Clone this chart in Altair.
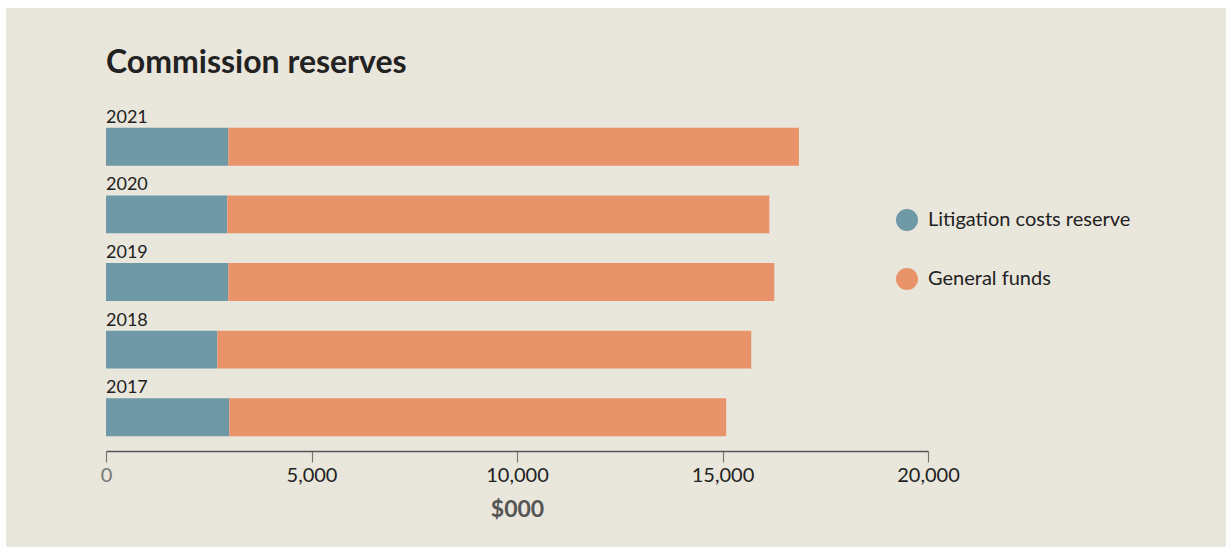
import altair as alt
import pandas as pd

years = ["2021", "2020", "2019", "2018", "2017"]
litigation = [2975, 2950, 2975, 2710, 3000]
general = [13885, 13190, 13285, 12990, 12090]
series = ["Litigation costs reserve", "General funds"]
colors = ["#7099a8", "#e89369"]
x_ticks = [0, 5000, 10000, 15000, 20000]

rows = []
for y, l, g in zip(years, litigation, general):
    rows.append({"year": y, "series": series[0], "value": l, "rank": 0})
    rows.append({"year": y, "series": series[1], "value": g, "rank": 1})
df = pd.DataFrame(rows)
labels_df = pd.DataFrame({"year": years})

FONT = "Lato"
BG = "#e9e6dc"

yscale = alt.Scale(domain=years, paddingInner=0.44, paddingOuter=0.22)

backdrop = alt.Chart(labels_df).mark_rect(color=BG).encode(
    x=alt.value(-100), x2=alt.value(1120), y=alt.value(-105), y2=alt.value(440)
)

bars = alt.Chart(df).mark_bar().encode(
    x=alt.X("value:Q", stack="zero",
            scale=alt.Scale(domain=[0, 20000], nice=False),
            axis=alt.Axis(values=x_ticks, format=",.0f", title="$000", zindex=1,
                          grid=False, domainColor="#555", domainWidth=1.5,
                          tickColor="#777", tickSize=11, tickWidth=1.2,
                          labelFont=FONT, labelFontSize=20,
                          labelColor=alt.condition(alt.datum.value == 0, alt.value("#777777"), alt.value("#222222")),
                          labelPadding=3, labelFlush=False,
                          titleFont=FONT, titleFontSize=23, titleFontWeight="bold",
                          titleColor="#555555", titlePadding=13)),
    y=alt.Y("year:N", scale=yscale, axis=None),
    color=alt.Color("series:N", scale=alt.Scale(domain=series, range=colors),
                    legend=alt.Legend(title=None, orient="none", legendX=790, legendY=96,
                                      symbolType="circle", symbolSize=484,
                                      symbolStrokeWidth=0, symbolOpacity=1,
                                      labelFont=FONT, labelFontSize=20, labelColor="#222",
                                      labelLimit=400, zindex=1,
                                      labelOffset=10, rowPadding=37, padding=0)),
    order=alt.Order("rank:Q"),
)

year_text = alt.Chart(labels_df).mark_text(
    align="left", baseline="alphabetic", dy=-24, font=FONT, fontSize=18, color="#222"
).encode(
    x=alt.value(0),
    y=alt.Y("year:N", scale=yscale, axis=None),
    text="year:N",
)

chart = alt.layer(backdrop, bars, year_text).properties(
    width=822, height=338,
    autosize=alt.AutoSizeParams(type="none"),
    padding={"left": 106, "top": 113, "right": 304, "bottom": 96},
    background="white",
    title=alt.TitleParams("Commission reserves", anchor="start", font=FONT,
                          fontSize=32, fontWeight="bold", color="#222",
                          baseline="alphabetic", offset=-97, frame="group", zindex=1),
).configure_view(stroke=None)

chart.save("out.html", embed_options={"renderer": "svg", "actions": False})
